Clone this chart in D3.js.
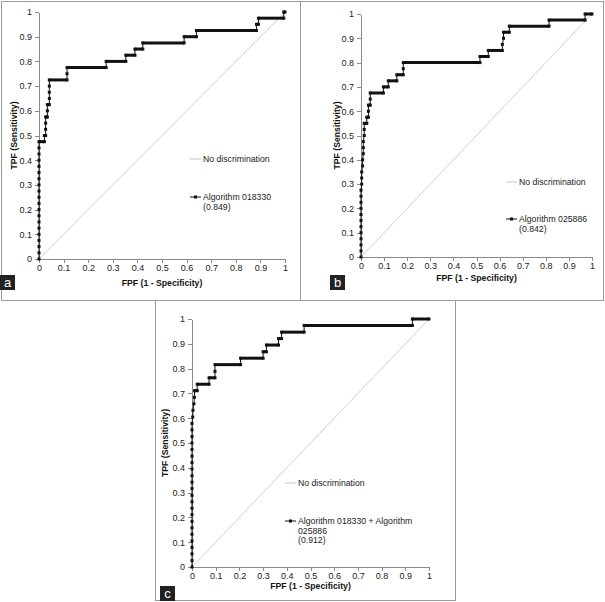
<!DOCTYPE html>
<html lang="en">
<head>
    <meta charset="UTF-8">
    <title>ROC curves</title>
    <script src="https://d3js.org/d3.v7.min.js"></script>
    <style>
        body {
            margin: 0;
            background: #fff;
            font-family: "Liberation Sans", Arial, sans-serif;
        }
        svg {
            display: block;
        }
        .axis path, .axis line {
            stroke: #8a8a8a;
            shape-rendering: crispEdges;
        }
        .axis text {
            font: 9px "Liberation Sans", Arial, sans-serif;
            fill: #222;
        }
        .title {
            font: bold 8.7px "Liberation Sans", Arial, sans-serif;
            fill: #111;
        }
        .legend {
            font: 8.7px "Liberation Sans", Arial, sans-serif;
            fill: #222;
        }
    </style>
</head>
<body>
<svg width="605" height="602"></svg>
<script>
    // tick labels shared by both axes
    const tickValues = [0, 0.1, 0.2, 0.3, 0.4, 0.5, 0.6, 0.7, 0.8, 0.9, 1];

    // panel a: Algorithm 018330
    const fpfA = [0, 0, 0, 0, 0, 0, 0, 0, 0, 0, 0, 0, 0, 0, 0, 0, 0, 0, 0, 0,
        0.022, 0.022, 0.027, 0.027, 0.027, 0.027, 0.034, 0.034, 0.034, 0.042, 0.042, 0.042, 0.042, 0.042,
        0.114, 0.114, 0.114, 0.273, 0.273, 0.353, 0.353, 0.39, 0.39, 0.422, 0.422, 0.59, 0.59,
        0.64, 0.64, 0.884, 0.884, 0.892, 0.892, 0.995, 0.995, 1];
    const tpfA = [0, 0.025, 0.05, 0.075, 0.1, 0.125, 0.15, 0.175, 0.2, 0.225, 0.25, 0.275, 0.3, 0.325, 0.35, 0.375, 0.4, 0.425, 0.45, 0.475,
        0.475, 0.5, 0.5, 0.525, 0.55, 0.575, 0.575, 0.6, 0.625, 0.625, 0.65, 0.675, 0.7, 0.725,
        0.725, 0.75, 0.775, 0.775, 0.8, 0.8, 0.825, 0.825, 0.85, 0.85, 0.875, 0.875, 0.9,
        0.9, 0.925, 0.925, 0.95, 0.95, 0.975, 0.975, 1, 1];

    // panel b: Algorithm 025886
    const fpfB = [0, 0, 0, 0, 0, 0, 0, 0, 0, 0, 0, 0,
        0.003, 0.003, 0.003, 0.007, 0.007, 0.01, 0.01, 0.01, 0.014, 0.014, 0.014, 0.025, 0.025,
        0.032, 0.032, 0.032, 0.04, 0.04, 0.04, 0.097, 0.097, 0.118, 0.118, 0.155, 0.155,
        0.183, 0.183, 0.183, 0.515, 0.515, 0.551, 0.551, 0.612, 0.612, 0.617, 0.617,
        0.642, 0.642, 0.814, 0.814, 0.97, 0.97, 1];
    const tpfB = [0, 0.025, 0.05, 0.075, 0.1, 0.125, 0.15, 0.175, 0.2, 0.225, 0.25, 0.275,
        0.3, 0.325, 0.35, 0.375, 0.4, 0.425, 0.45, 0.475, 0.5, 0.525, 0.55, 0.55, 0.575,
        0.575, 0.6, 0.625, 0.625, 0.65, 0.675, 0.675, 0.7, 0.7, 0.725, 0.725, 0.75,
        0.75, 0.775, 0.8, 0.8, 0.825, 0.825, 0.85, 0.85, 0.875, 0.9, 0.925,
        0.925, 0.95, 0.95, 0.975, 0.975, 1, 1];

    // panel c: Algorithm 018330 + Algorithm 025886
    const fpfC = [0, 0, 0, 0, 0, 0, 0, 0, 0, 0, 0, 0, 0, 0, 0, 0, 0, 0, 0, 0, 0, 0, 0,
        0.003, 0.004, 0.008, 0.01, 0.011, 0.022, 0.022, 0.072, 0.072, 0.097, 0.097, 0.097,
        0.205, 0.205, 0.3, 0.3, 0.314, 0.314, 0.365, 0.365, 0.378, 0.378, 0.473, 0.473, 0.93, 0.93, 1];
    const tpfC = [0, 0.026, 0.053, 0.079, 0.105, 0.132, 0.158, 0.184, 0.211, 0.237, 0.263, 0.289, 0.316,
        0.342, 0.368, 0.395, 0.421, 0.447, 0.474, 0.5, 0.526, 0.553, 0.579,
        0.605, 0.632, 0.658, 0.684, 0.711, 0.711, 0.737, 0.737, 0.763, 0.763, 0.789, 0.816,
        0.816, 0.842, 0.842, 0.868, 0.868, 0.895, 0.895, 0.921, 0.921, 0.947, 0.947, 0.974, 0.974, 1, 1];

    const panels = [
        { fpf: fpfA, tpf: tpfA, label: "a", legend: ["Algorithm 018330", "(0.849)"],
          box: [1, 1, 299, 299], x: [39, 285], y: [259, 12],
          yTitleX: 14, xTitleY: 283, tag: [0, 275], leg: [190, 159, 197] },
        { fpf: fpfB, tpf: tpfB, label: "b", legend: ["Algorithm 025886", "(0.842)"],
          box: [300, 1, 303, 299], x: [361, 592], y: [257, 14],
          yTitleX: 337, xTitleY: 278, tag: [330, 275], leg: [506, 182, 219] },
        { fpf: fpfC, tpf: tpfC, label: "c", legend: ["Algorithm 018330 + Algorithm", "025886", "(0.912)"],
          box: [155, 300, 300, 300], x: [192, 429], y: [567, 319],
          yTitleX: 165, xTitleY: 586, tag: [160, 586], leg: [285, 483, 521] }
    ];

    const svg = d3.select("svg");

    panels.forEach(p => {
        const g = svg.append("g");

        g.append("rect")
            .attr("x", p.box[0] + 0.5).attr("y", p.box[1] + 0.5)
            .attr("width", p.box[2]).attr("height", p.box[3])
            .attr("fill", "none").attr("stroke", "#9a9a9a");

        const x = d3.scaleLinear().domain([0, 1]).range(p.x);
        const y = d3.scaleLinear().domain([0, 1]).range(p.y);

        g.append("g").attr("class", "axis")
            .attr("transform", `translate(${p.x[0]},0)`)
            .call(d3.axisLeft(y).tickValues(tickValues).tickSize(4).tickSizeOuter(0).tickPadding(3).tickFormat(d => String(d)));

        g.append("g").attr("class", "axis")
            .attr("transform", `translate(0,${p.y[0]})`)
            .call(d3.axisBottom(x).tickValues(tickValues).tickSize(4).tickSizeOuter(0).tickPadding(2).tickFormat(d => String(d)));

        // no-discrimination diagonal
        g.append("line")
            .attr("x1", x(0)).attr("y1", y(0)).attr("x2", x(1)).attr("y2", y(1))
            .attr("stroke", "#c4c4c4").attr("stroke-width", 0.8);

        const pts = p.fpf.map((f, i) => [f, p.tpf[i]]);

        g.append("path")
            .datum(pts)
            .attr("fill", "none")
            .attr("stroke", "#111")
            .attr("stroke-width", 1)
            .attr("d", d3.line().x(d => x(d[0])).y(d => y(d[1])));

        // horizontal runs look heavy in the original (dense markers)
        const flats = d3.pairs(pts).filter(([a, b]) => a[1] === b[1] && a[0] !== b[0]);
        g.selectAll(".flat")
            .data(flats)
            .enter().append("line")
            .attr("x1", d => x(d[0][0])).attr("x2", d => x(d[1][0]))
            .attr("y1", d => y(d[0][1])).attr("y2", d => y(d[1][1]))
            .attr("stroke", "#111").attr("stroke-width", 3);

        g.selectAll(".mark")
            .data(pts)
            .enter().append("rect")
            .attr("x", d => x(d[0]) - 1.5)
            .attr("y", d => y(d[1]) - 1.5)
            .attr("width", 3).attr("height", 3)
            .attr("fill", "#111");

        // axis titles
        g.append("text").attr("class", "title")
            .attr("transform", `translate(${p.yTitleX},${(p.y[0] + p.y[1]) / 2}) rotate(-90)`)
            .attr("text-anchor", "middle").attr("dy", "0.35em")
            .text("TPF (Sensitivity)");
        g.append("text").attr("class", "title")
            .attr("x", (p.x[0] + p.x[1]) / 2).attr("y", p.xTitleY)
            .attr("text-anchor", "middle").attr("dy", "0.35em")
            .text("FPF (1 - Specificity)");

        // legend
        const [lx, ly1, ly2] = p.leg;
        g.append("line")
            .attr("x1", lx).attr("x2", lx + 11).attr("y1", ly1).attr("y2", ly1)
            .attr("stroke", "#c4c4c4").attr("stroke-width", 1);
        g.append("text").attr("class", "legend")
            .attr("x", lx + 13).attr("y", ly1).attr("dy", "0.35em")
            .text("No discrimination");
        g.append("line")
            .attr("x1", lx).attr("x2", lx + 11).attr("y1", ly2).attr("y2", ly2)
            .attr("stroke", "#111").attr("stroke-width", 1);
        g.append("rect")
            .attr("x", lx + 4).attr("y", ly2 - 1.5).attr("width", 3).attr("height", 3)
            .attr("fill", "#111");
        p.legend.forEach((t, i) => {
            g.append("text").attr("class", "legend")
                .attr("x", lx + 13).attr("y", ly2 + i * 9.5).attr("dy", "0.35em")
                .text(t);
        });

        // panel tag
        g.append("rect")
            .attr("x", p.tag[0]).attr("y", p.tag[1])
            .attr("width", 15).attr("height", 15)
            .attr("fill", "#222");
        g.append("text")
            .attr("x", p.tag[0] + 7.5).attr("y", p.tag[1] + 7.5)
            .attr("dy", "0.35em").attr("text-anchor", "middle")
            .attr("fill", "#fff")
            .style("font", "13px 'Liberation Sans', Arial, sans-serif")
            .text(p.label);
    });
</script>
</body>
</html>
